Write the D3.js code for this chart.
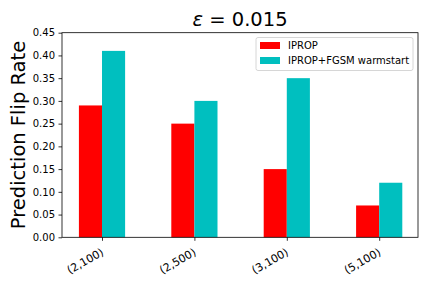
<!DOCTYPE html>
<html><head><meta charset="utf-8">
<script src="https://cdn.jsdelivr.net/npm/d3@7"></script>
<style>body{margin:0;background:#fff}svg{display:block;font-family:"DejaVu Sans",sans-serif}</style>
</head><body>
<svg id="c" width="432" height="288"></svg>
<script>
const categories = ["(2,100)", "(2,500)", "(3,100)", "(5,100)"];
const seriesNames = ["IPROP", "IPROP+FGSM warmstart"];
const iprop = [0.29, 0.25, 0.15, 0.07];
const fgsm = [0.41, 0.30, 0.35, 0.12];
const yTicks = [0.00, 0.05, 0.10, 0.15, 0.20, 0.25, 0.30, 0.35, 0.40, 0.45];
const colors = ["#ff0000", "#00bfbf"];

const svg = d3.select("#c");
const L = 62, R = 418, T = 32.7, B = 237.3;
const x = d3.scaleLinear().domain([-0.433, 3.42]).range([L, R]);
const y = d3.scaleLinear().domain([0, 0.45]).range([B, T]);
const bw = 0.25;

const series = [iprop, fgsm];
series.forEach((vals, s) => {
  svg.append("g").selectAll("rect").data(vals).join("rect")
    .attr("x", (d, i) => x(i - bw + s * bw))
    .attr("width", x(bw) - x(0))
    .attr("y", d => y(d))
    .attr("height", d => y(0) - y(d))
    .attr("fill", colors[s]);
});

const yAxis = d3.axisLeft(y).tickValues(yTicks).tickFormat(d3.format(".2f")).tickSize(3.5).tickPadding(3.5);
const gy = svg.append("g").attr("transform", `translate(${L},0)`).call(yAxis);
gy.select(".domain").remove();
gy.selectAll("text").attr("font-size", 10).attr("fill", "#000").attr("font-family", "DejaVu Sans");
gy.selectAll("line").attr("stroke", "#000").attr("stroke-width", 0.8);

const xAxis = d3.axisBottom(x).tickValues(d3.range(categories.length)).tickFormat(i => categories[i]).tickSize(3.5).tickPadding(3.5);
const gx = svg.append("g").attr("transform", `translate(0,${B})`).call(xAxis);
gx.select(".domain").remove();
gx.selectAll("line").attr("stroke", "#000").attr("stroke-width", 0.8);
gx.selectAll("text").attr("font-size", 11).attr("fill", "#000").attr("font-family", "DejaVu Sans")
  .attr("text-anchor", "end").attr("x", 0).attr("y", 0).attr("dy", 0)
  .attr("transform", "translate(2,17) rotate(-30)");

svg.append("rect").attr("x", L).attr("y", T).attr("width", R - L).attr("height", B - T)
  .attr("fill", "none").attr("stroke", "#000").attr("stroke-width", 0.8);

// title
const title = svg.append("text").attr("x", (L + R) / 2).attr("y", 26).attr("text-anchor", "middle")
  .attr("font-size", 19.5).attr("fill", "#000");
title.append("tspan").attr("font-style", "italic").text("ε");
title.append("tspan").text(" = 0.015");

// y label
svg.append("text").attr("transform", `translate(25,${(T + B) / 2}) rotate(-90)`)
  .attr("text-anchor", "middle").attr("font-size", 19.5).attr("fill", "#000").text("Prediction Flip Rate");

// legend
const lg = svg.append("g");
lg.append("rect").attr("x", 256).attr("y", 37.5).attr("width", 157).attr("height", 33)
  .attr("rx", 2).attr("fill", "#fff").attr("fill-opacity", 0.8).attr("stroke", "#ccc").attr("stroke-width", 0.8);
seriesNames.forEach((n, i) => {
  const yy = 45.5 + i * 15;
  lg.append("rect").attr("x", 260).attr("y", yy - 3.5).attr("width", 20).attr("height", 7).attr("fill", colors[i]);
  lg.append("text").attr("x", 288).attr("y", yy).attr("dy", "0.35em").attr("font-size", 10).attr("fill", "#000").text(n);
});
</script>
</body></html>
